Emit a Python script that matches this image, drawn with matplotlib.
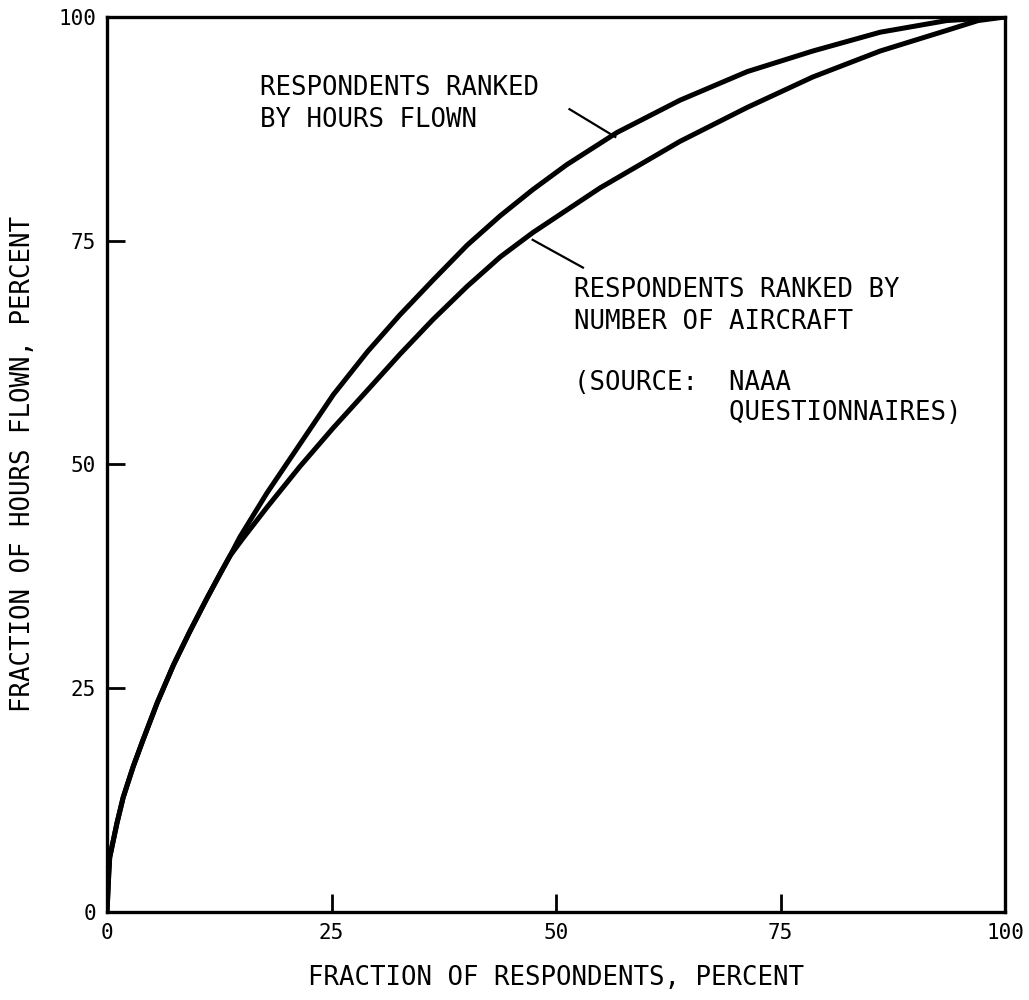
import matplotlib
matplotlib.use("Agg")
import matplotlib.pyplot as plt

# Cumulative share of hours flown vs. share of respondents (percent)
hours_x = [0, 0.2, 0.3, 1.1, 1.8, 2.9, 4.0, 5.6, 7.4, 9.2, 11.1, 12.6, 13.7, 14.8,
           17.8, 21.5, 25.2, 29.0, 32.6, 36.3, 40.1, 43.8, 47.4, 51.2, 56.8, 63.8,
           71.3, 78.6, 86.1, 93.5, 100]
hours_y = [0, 4.4, 6.1, 9.9, 12.8, 16.2, 19.2, 23.4, 27.6, 31.3, 35.0, 37.8, 39.8, 41.9,
           46.8, 52.3, 57.8, 62.6, 66.7, 70.6, 74.5, 77.8, 80.7, 83.5, 87.1, 90.7,
           93.9, 96.2, 98.3, 99.6, 100]

aircraft_x = [0, 0.2, 0.3, 1.1, 1.8, 2.9, 4.0, 5.6, 7.4, 9.2, 11.1, 12.6, 13.7, 15.1,
              17.8, 21.5, 25.2, 29.0, 32.6, 36.3, 40.1, 43.8, 47.4, 54.9, 63.8, 71.3,
              78.6, 86.1, 93.5, 97.0, 100]
aircraft_y = [0, 4.4, 6.1, 9.9, 12.8, 16.2, 19.2, 23.4, 27.6, 31.3, 35.0, 37.8, 39.8, 41.7,
              45.2, 49.8, 54.1, 58.3, 62.3, 66.2, 69.9, 73.2, 75.9, 80.9, 86.1, 89.9,
              93.3, 96.2, 98.5, 99.6, 100]

ticks = [0, 25, 50, 75, 100]
tick_labels = ["0", "25", "50", "75", "100"]

plt.rcParams['font.family'] = ['DejaVu Sans Mono']

fig = plt.figure(figsize=(10.29, 10.0), dpi=100)
ax = fig.add_axes([0.104, 0.088, 0.8727, 0.895])

for xs, ys in ((hours_x, hours_y), (aircraft_x, aircraft_y)):
    ax.plot(xs, ys, color='black', lw=3.6, solid_capstyle='round',
            solid_joinstyle='round')

# leader lines from the labels to the curves
ax.plot([51.5, 56.6], [89.7, 86.6], color='black', lw=1.6)
ax.plot([47.4, 53.0], [75.1, 72.0], color='black', lw=1.6)

ax.set_xlim(0, 100)
ax.set_ylim(0, 100)
for s in ax.spines.values():
    s.set_linewidth(2.4)

ax.set_xticks(ticks)
ax.set_xticklabels(tick_labels)
ax.set_yticks(ticks)
ax.set_yticklabels(tick_labels)
ax.tick_params(direction='in', length=13, width=2.0, labelsize=15, pad=8)

ax.set_xlabel("FRACTION OF RESPONDENTS, PERCENT", fontsize=18.5, labelpad=16)
ax.set_ylabel("FRACTION OF HOURS FLOWN, PERCENT", fontsize=18.5, labelpad=16)

fs = 18.5
ax.text(17.0, 92.1, "RESPONDENTS RANKED", fontsize=fs, va='center', ha='left')
ax.text(17.0, 88.5, "BY HOURS FLOWN", fontsize=fs, va='center', ha='left')
ax.text(52.0, 69.5, "RESPONDENTS RANKED BY", fontsize=fs, va='center', ha='left')
ax.text(52.0, 65.9, "NUMBER OF AIRCRAFT", fontsize=fs, va='center', ha='left')
ax.text(52.0, 59.1, "(SOURCE:  NAAA", fontsize=fs, va='center', ha='left')
ax.text(52.0, 55.8, "          QUESTIONNAIRES)", fontsize=fs, va='center', ha='left')

fig.savefig("out.png", dpi=100)
